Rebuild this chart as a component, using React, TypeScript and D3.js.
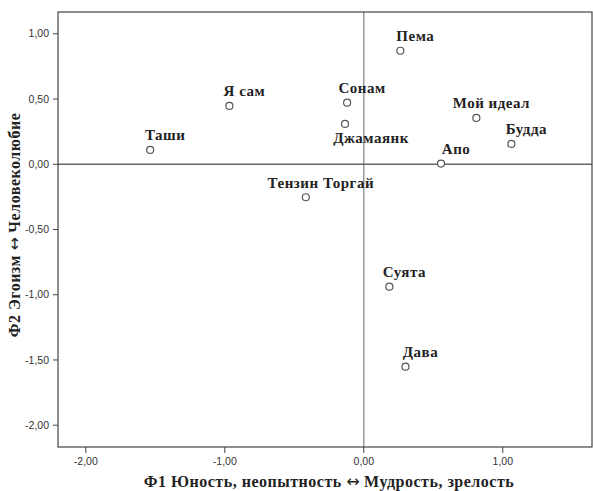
import React from "react";
import * as d3 from "d3";

const names = ["Таши", "Я сам", "Сонам", "Джамаянк", "Тензин Торгай", "Пема", "Апо", "Мой идеал", "Будда", "Суята", "Дава"];
const f1 = [-1.537, -0.967, -0.12, -0.135, -0.417, 0.263, 0.556, 0.81, 1.062, 0.184, 0.30];
const f2 = [0.11, 0.447, 0.472, 0.309, -0.253, 0.87, 0.005, 0.355, 0.156, -0.938, -1.551];
const labelSide = ["above", "above", "above", "below", "above", "above", "above", "above", "above", "above", "above"];
const xTicks = [-2, -1, 0, 1];
const yTicks = [1, 0.5, 0, -0.5, -1, -1.5, -2];
const xTitle = "Ф1 Юность, неопытность ↔ Мудрость, зрелость";
const yTitle = "Ф2 Эгоизм ↔ Человеколюбие";

const W = 593, H = 491;
const L = 58, R = 592, T = 12, B = 447;

function titleParts(s: string) {
  const parts = s.split("↔");
  return (
    <>
      <tspan>{parts[0]}</tspan>
      <tspan style={{ fontFamily: "DejaVu Sans, sans-serif" }} fontWeight="normal" letterSpacing={0}>↔</tspan>
      <tspan>{parts[1]}</tspan>
    </>
  );
}

export default function App() {
  const x = d3.scaleLinear().domain([-2.2, 1.642]).range([L, R]);
  const y = d3.scaleLinear().domain([1.167, -2.167]).range([T, B]);
  const fmt = (v: number) => d3.format(".2f")(v).replace(".", ",").replace("−", "-");
  const serifStyle = { fontFamily: "Liberation Serif, DejaVu Serif, serif" };
  const sans = "Liberation Sans, Arial, sans-serif";
  return (
    <svg width={W} height={H} style={{ position: "absolute", left: 0, top: 0, background: "#fff" }}>
      <rect x={0} y={0} width={W} height={H} fill="#fff" />
      <line x1={x(0)} x2={x(0)} y1={T} y2={B} stroke="#8a8a8a" strokeWidth={1.3} />
      <line x1={L} x2={R} y1={y(0)} y2={y(0)} stroke="#666" strokeWidth={1.3} />
      <rect x={L} y={T} width={R - L} height={B - T} fill="none" stroke="#444" strokeWidth={1.2} />
      {yTicks.map((t) => (
        <g key={"y" + t}>
          <line x1={L - 5} x2={L} y1={y(t)} y2={y(t)} stroke="#444" />
          <text x={L - 9} y={y(t)} dy="0.35em" textAnchor="end" fontFamily={sans} fontSize={10.5} fill="#333">{fmt(t)}</text>
        </g>
      ))}
      {xTicks.map((t) => (
        <g key={"x" + t}>
          <line x1={x(t)} x2={x(t)} y1={B} y2={B + 6} stroke="#444" />
          <text x={x(t)} y={B + 18} textAnchor="middle" fontFamily={sans} fontSize={10.5} fill="#333">{fmt(t)}</text>
        </g>
      ))}
      {names.map((n, i) => {
        const px = x(f1[i]);
        const py = y(f2[i]);
        const below = labelSide[i] === "below";
        return (
          <g key={n}>
            <circle cx={px} cy={py} r={3.5} fill="#fff" stroke="#555" strokeWidth={1.2} />
            <text x={px + (below ? 26 : 15)} y={py + (below ? 19 : -9.5)} textAnchor="middle" style={serifStyle} fontWeight="bold" fontSize={15} letterSpacing={0.5} fill="#222">{n}</text>
          </g>
        );
      })}
      <text x={(L + R) / 2 + 4} y={487} textAnchor="middle" style={serifStyle} fontWeight="bold" fontSize={16} letterSpacing={0.5} fill="#222">{titleParts(xTitle)}</text>
      <text transform={`translate(20, 225) rotate(-90)`} textAnchor="middle" style={serifStyle} fontWeight="bold" fontSize={16} letterSpacing={0.5} fill="#222">{titleParts(yTitle)}</text>
    </svg>
  );
}
